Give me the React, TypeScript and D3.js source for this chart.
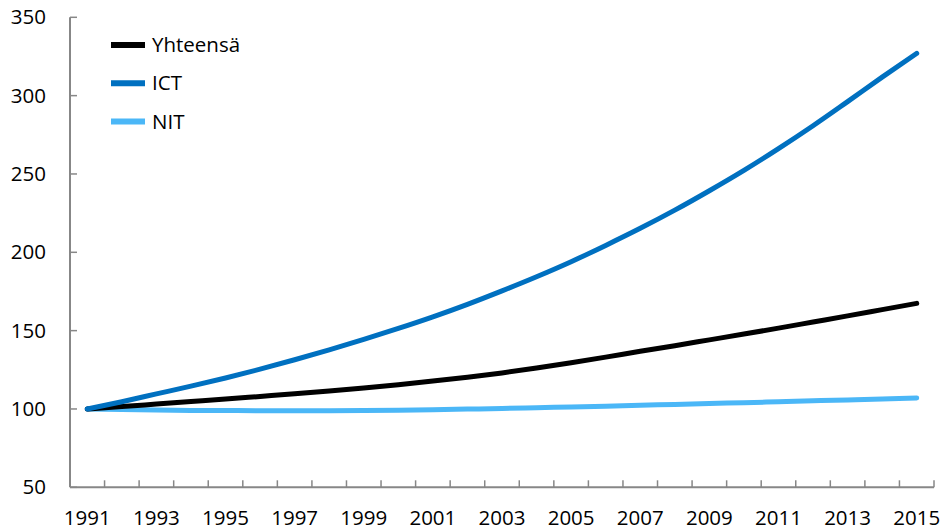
import React from "react";
import * as d3 from "d3";

const years = [1991,1992,1993,1994,1995,1996,1997,1998,1999,2000,2001,2002,2003,2004,2005,2006,2007,2008,2009,2010,2011,2012,2013,2014,2015];
const yhteensa = [100,101.5,103.1,104.7,106.3,108,109.7,111.5,113.4,115.5,117.8,120.3,123.0,126.1,129.5,133.1,136.8,140.4,144.1,147.8,151.6,155.5,159.4,163.4,167.4];
const ict = [100,104.6,109.6,114.6,119.8,125.4,131.4,137.7,144.4,151.4,158.8,166.8,175.4,184.4,194,204.4,215.3,226.9,239.3,252.3,266.2,280.8,296.2,311.8,327];
const nit = [100,99.6,99.3,99.1,99.0,98.9,98.9,98.9,99.0,99.2,99.5,99.9,100.3,100.8,101.3,101.8,102.4,102.9,103.5,104.0,104.6,105.2,105.8,106.4,107.0];
const yTicks = [50,100,150,200,250,300,350];
const seriesNames = ["Yhteensä", "ICT", "NIT"];
const seriesColors = ["#000000", "#0070C0", "#4BB7F7"];

export default function App() {
  const W = 943, H = 531;
  const left = 70, right = 934, top = 17.3, bottom = 487.3;
  const x = d3.scaleBand<number>().domain(years).range([left, right]);
  const y = d3.scaleLinear().domain([50, 350]).range([bottom, top]);
  const cx = (yr: number) => (x(yr) as number) + x.bandwidth() / 2;
  const line = d3.line<number>()
    .x((_, i) => cx(years[i]))
    .y((d) => y(d))
    .curve(d3.curveMonotoneX);
  const series = [yhteensa, ict, nit];
  const font = "'Open Sans', sans-serif";
  const axisColor = "#878787";
  const boundaries = years.map((yr) => (x(yr) as number) + x.bandwidth());
  return (
    <svg width={W} height={H} style={{ position: "absolute", left: 0, top: 0 }}>
      <rect width={W} height={H} fill="#fff" />
      {/* y axis */}
      <line x1={left} x2={left} y1={top} y2={bottom} stroke={axisColor} strokeWidth={2} />
      {yTicks.map((t) => (
        <g key={t}>
          <line x1={left} x2={left + 7} y1={y(t)} y2={y(t)} stroke={axisColor} strokeWidth={1.5} />
          <text x={46} y={y(t)} dy="0.35em" textAnchor="end" fontFamily={font} fontSize={20.5} fill="#000">{t}</text>
        </g>
      ))}
      {/* x axis */}
      <line x1={left} x2={right} y1={bottom} y2={bottom} stroke={axisColor} strokeWidth={2} />
      {boundaries.map((bx, i) => (
        <line key={i} x1={bx} x2={bx} y1={bottom} y2={bottom - 7} stroke={axisColor} strokeWidth={1.5} />
      ))}
      {years.filter((yr) => (yr - 1991) % 2 === 0).map((yr) => (
        <text key={yr} x={cx(yr)} y={518} dy="0.35em" textAnchor="middle" fontFamily={font} fontSize={20.5} fill="#000">{yr}</text>
      ))}
      {/* lines */}
      {[2, 0, 1].map((si) => (
        <path key={si} d={line(series[si]) || ""} fill="none" stroke={seriesColors[si]} strokeWidth={5} strokeLinecap="round" strokeLinejoin="round" />
      ))}
      {/* legend */}
      {seriesNames.map((n, i) => (
        <g key={n}>
          <line x1={111} x2={145} y1={45 + i * 38.3} y2={45 + i * 38.3} stroke={seriesColors[i]} strokeWidth={6} />
          <text x={152} y={45 + i * 38.3} dy="0.35em" fontFamily={font} fontSize={20.5} fill="#000">{n}</text>
        </g>
      ))}
    </svg>
  );
}
